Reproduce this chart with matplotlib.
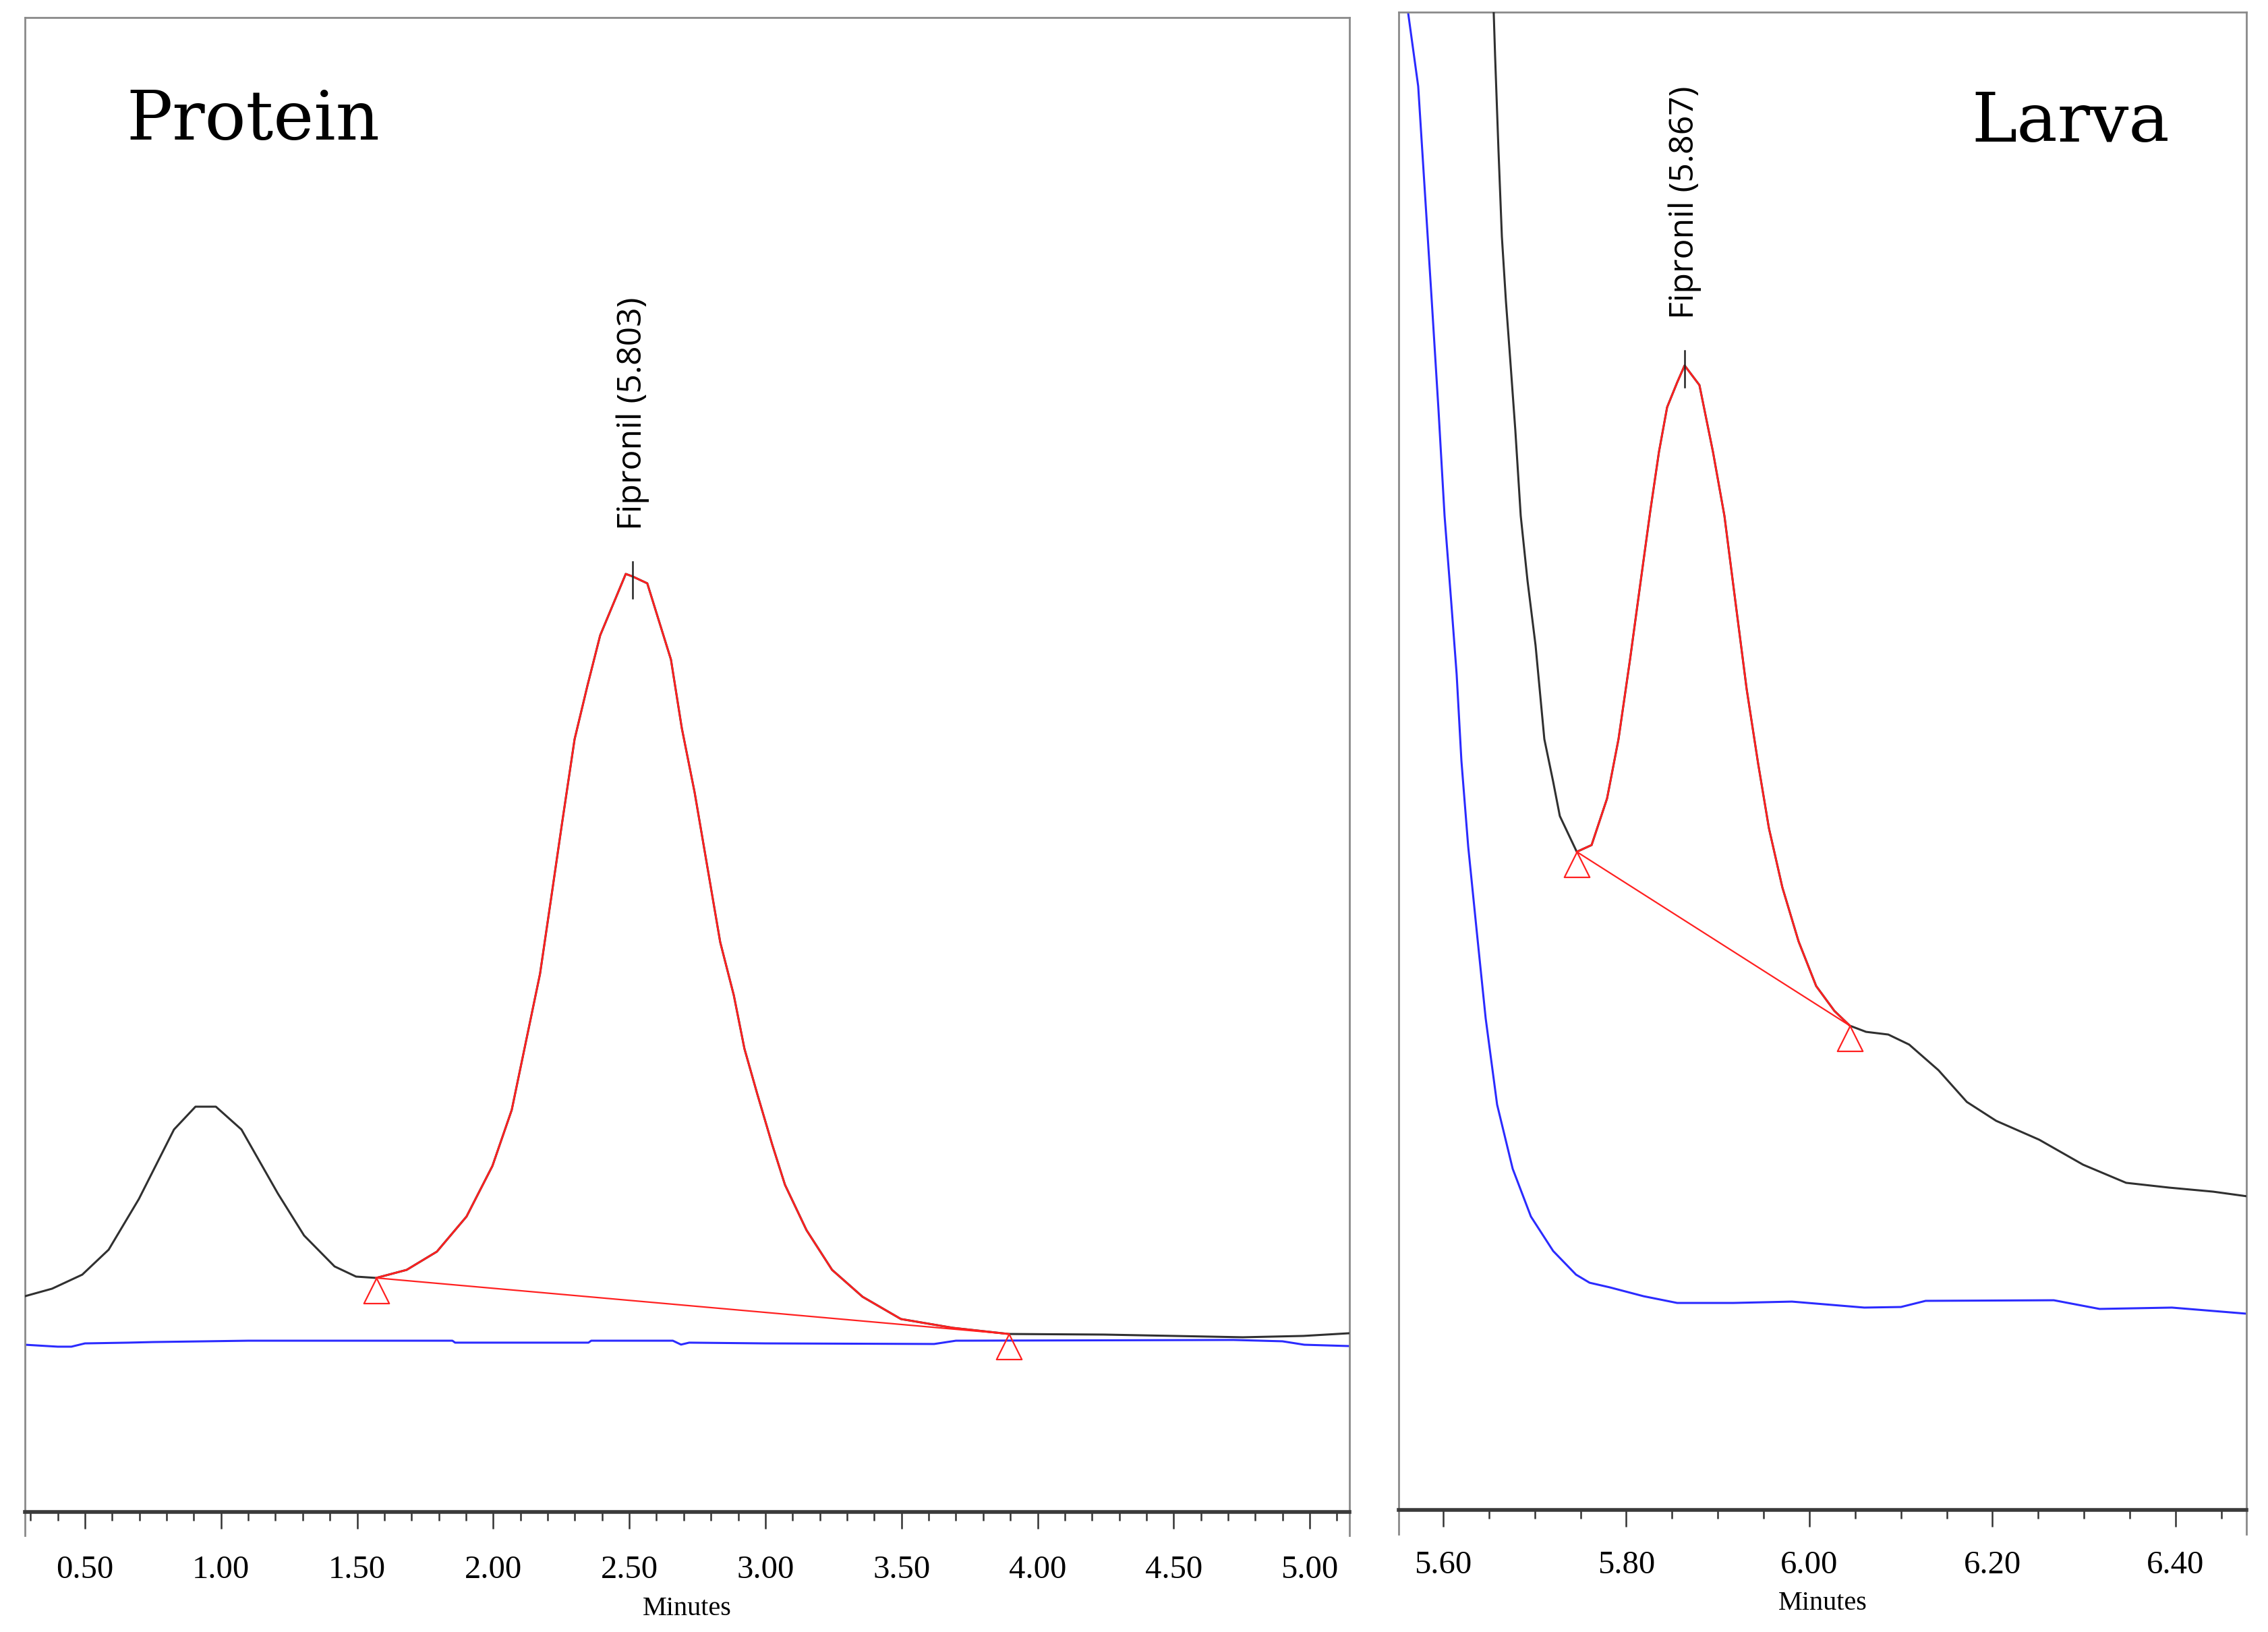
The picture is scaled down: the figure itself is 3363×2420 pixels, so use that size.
import numpy as np
import matplotlib
matplotlib.use("Agg")
import matplotlib.pyplot as plt
from matplotlib.ticker import MultipleLocator, FormatStrFormatter
from matplotlib.path import Path

# ---- Protein panel: sample trace (black), blank trace (blue) ----
prot_time = [0.28, 0.379, 0.490, 0.587, 0.698, 0.827, 0.906, 0.981, 1.075, 1.209,
             1.305, 1.417, 1.496, 1.570, 1.682, 1.793, 1.902, 1.997, 2.068, 2.123,
             2.172, 2.212, 2.252, 2.299, 2.346, 2.393, 2.487, 2.512, 2.566, 2.653,
             2.693, 2.740, 2.787, 2.834, 2.884, 2.923, 2.970, 3.025, 3.072, 3.151,
             3.245, 3.357, 3.498, 3.689, 3.894, 4.244, 4.754, 4.977, 5.146]
prot_signal = [14.44, 14.94, 15.88, 17.55, 20.94, 25.59, 27.12, 27.12, 25.59, 21.30,
               18.50, 16.43, 15.75, 15.66, 16.20, 17.42, 19.77, 23.15, 26.90, 31.72,
               36.01, 40.97, 45.98, 51.71, 55.28, 58.66, 62.77, 62.60, 62.14, 57.04,
               52.44, 48.15, 43.14, 38.13, 34.57, 31.00, 27.98, 24.59, 21.89, 18.86,
               16.20, 14.40, 12.91, 12.32, 11.91, 11.87, 11.69, 11.78, 11.96]
prot_blank_time = [0.28, 0.40, 0.45, 0.50, 0.66, 0.75, 1.10, 1.85, 1.86, 2.35, 2.36,
                   2.66, 2.69, 2.72, 3.00, 3.62, 3.70, 4.72, 4.90, 4.98, 5.146]
prot_blank = [11.19, 11.06, 11.06, 11.28, 11.33, 11.37, 11.46, 11.46, 11.33, 11.33, 11.46,
              11.46, 11.20, 11.33, 11.28, 11.24, 11.46, 11.51, 11.42, 11.19, 11.10]

# ---- Larva panel ----
larva_time = [5.6545, 5.6552, 5.6567, 5.6604, 5.6641, 5.6685, 5.6737, 5.6788, 5.6847,
              5.6921, 5.7009, 5.7105, 5.7201, 5.7274, 5.7459, 5.7621, 5.7790, 5.7915,
              5.8041, 5.8158, 5.8262, 5.8357, 5.8446, 5.8556, 5.8637, 5.8799, 5.8947,
              5.9072, 5.9190, 5.9315, 5.9440, 5.9558, 5.9705, 5.9882, 6.0074, 6.0273,
              6.0442, 6.0619, 6.0862, 6.109, 6.141, 6.172, 6.204, 6.251, 6.299, 6.346,
              6.393, 6.441, 6.478]
larva_signal = [103.0, 99.95, 97.07, 90.77, 85.01, 80.73, 76.41, 72.08, 66.37,
                62.04, 57.72, 51.46, 48.63, 46.33, 43.94, 44.39, 47.50, 51.46,
                56.78, 62.04, 66.68, 70.64, 73.62, 75.28, 76.41, 75.10, 70.64,
                66.37, 60.74, 54.80, 49.84, 45.52, 41.56, 37.96, 34.98, 33.32,
                32.33, 31.92, 31.74, 31.07, 29.36, 27.24, 25.98, 24.72, 23.05, 21.84,
                21.52, 21.25, 20.94]
larva_blank_time = [5.5605, 5.5617, 5.5727, 5.5801, 5.5875, 5.5948, 5.6015, 5.6088,
                    5.6147, 5.6199, 5.6273, 5.6368, 5.6464, 5.6589, 5.6759, 5.6958,
                    5.7201, 5.7451, 5.7599, 5.7820, 5.8188, 5.8556, 5.9168, 5.981,
                    6.060, 6.100, 6.127, 6.267, 6.317, 6.396, 6.478]
larva_blank = [103.0, 99.95, 95.05, 87.89, 80.73, 73.52, 66.37, 60.60,
               55.79, 50.02, 44.30, 38.54, 32.82, 27.06, 22.78, 19.59,
               17.29, 15.71, 15.17, 14.86, 14.27, 13.82, 13.82, 13.91,
               13.51, 13.55, 13.96, 14.00, 13.42, 13.51, 13.10]

# peak integration limits, labelled retention time and peak names
peak_start = [1.570, 5.7459]
peak_end = [3.894, 6.0442]
peak_rt = [2.512, 5.864]
peak_apex = [62.6, 76.4]
peak_labels = ["Fipronil (5.803)", "Fipronil (5.867)"]
panel_titles = ["Protein", "Larva"]

W, H, DPI = 3363, 2420, 200
fig = plt.figure(figsize=(W / DPI, H / DPI), dpi=DPI)

ax1 = fig.add_axes([37 / W, 1 - 2242 / H, (2001 - 37) / W, (2242 - 26) / H])
ax2 = fig.add_axes([2074 / W, 1 - 2239 / H, (3331 - 2074) / W, (2239 - 18) / H])

# triangle marker with apex at the data point
tri = Path([(0, 0), (-0.5, -1), (0.5, -1), (0, 0)], closed=True)

serif = "Liberation Serif"


def draw_panel(ax, t, s, tb, sb, i, xlim, major, minor, pad):
    t = np.array(t)
    s = np.array(s)
    ax.plot(tb, sb, color="#2b2bff", lw=1.1, zorder=2)
    ax.plot(t, s, color="#303030", lw=1.1, zorder=3)
    m = (t >= peak_start[i]) & (t <= peak_end[i])
    ax.plot(t[m], s[m], color="#ff2020", lw=1.0, zorder=4)
    ys = np.interp(peak_start[i], t, s)
    ye = np.interp(peak_end[i], t, s)
    ax.plot([peak_start[i], peak_end[i]], [ys, ye], color="#ff2020", lw=0.8, zorder=4)
    ax.plot([peak_start[i], peak_end[i]], [ys, ye], linestyle="none", marker=tri,
            markersize=27, markerfacecolor="none", markeredgecolor="#ff2020",
            markeredgewidth=0.8, zorder=5)
    # retention time tick and label
    a = peak_apex[i]
    ax.plot([peak_rt[i], peak_rt[i]], [a - 1.45, a + 1.0], color="#222222", lw=0.9, zorder=6)
    ax.text(peak_rt[i], a + 3.1, peak_labels[i], rotation=90, ha="center", va="bottom",
            fontsize=18, family="Open Sans", color="black")

    ax.set_xlim(*xlim)
    ax.set_ylim(0, 100)
    ax.set_yticks([])
    ax.xaxis.set_major_locator(MultipleLocator(major))
    ax.xaxis.set_minor_locator(MultipleLocator(minor))
    ax.xaxis.set_major_formatter(FormatStrFormatter("%.2f"))
    ax.tick_params(axis="x", which="major", direction="out", length=9, width=0.9,
                   color="#333333", labelsize=17.5, pad=pad)
    ax.tick_params(axis="x", which="minor", direction="out", length=4.5, width=0.9,
                   color="#333333")
    for lab in ax.get_xticklabels():
        lab.set_family(serif)
    ax.set_xlabel("Minutes", family=serif, fontsize=14.5, labelpad=6)

    for side in ["left", "right", "top"]:
        ax.spines[side].set_color("#8a8a8a")
        ax.spines[side].set_linewidth(1.0)
    ax.spines["bottom"].set_color("#3a3a3a")
    ax.spines["bottom"].set_linewidth(2.0)
    # side frame lines run a little below the axis line
    for xx in [0, 1]:
        ax.plot([xx, xx], [0, -0.016], transform=ax.transAxes, color="#8a8a8a",
                lw=1.0, clip_on=False)


draw_panel(ax1, prot_time, prot_signal, prot_blank_time, prot_blank, 0,
           (0.2795, 5.146), 0.5, 0.1, 14)
draw_panel(ax2, larva_time, larva_signal, larva_blank_time, larva_blank, 1,
           (5.5514, 6.4774), 0.2, 0.05, 12.5)

ax1.text(0.0764, 0.9183, panel_titles[0], transform=ax1.transAxes, ha="left",
         va="baseline", fontsize=36.5, family="DejaVu Serif")
ax2.text(0.9093, 0.9135, panel_titles[1], transform=ax2.transAxes, ha="right",
         va="baseline", fontsize=36.5, family="DejaVu Serif")

fig.savefig("out.png", dpi=DPI, facecolor="white")
